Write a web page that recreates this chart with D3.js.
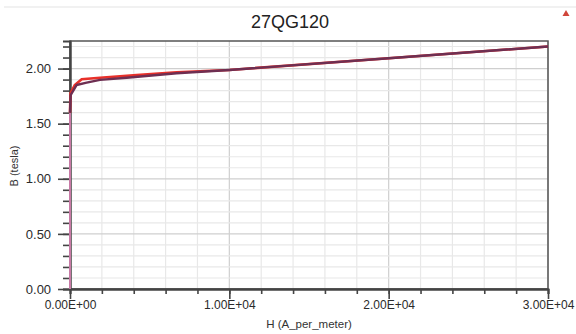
<!DOCTYPE html>
<html>
<head>
<meta charset="utf-8">
<script src="https://cdn.jsdelivr.net/npm/d3@7"></script>
<style>
  body { margin: 0; background: #fff; }
  svg { display: block; font-family: "Liberation Sans", Arial, sans-serif; }
</style>
</head>
<body>
<svg id="chart" width="576" height="334"></svg>
<script>
// B-H curve for 27QG120
const chartTitle = "27QG120";
const xTitle = "H (A_per_meter)";
const yTitle = "B (tesla)";

// the thin pinkish rise along H = 0
const riseH = [0, 0];
const riseB = [0, 1.60];
// red curve
const redH = [0, 30, 300, 734, 1883, 4184, 6695, 10000, 20000, 30000];
const redB = [1.60, 1.776, 1.85, 1.903, 1.917, 1.940, 1.966, 1.987, 2.094, 2.200];
// dark purple curve
const purpleH = [0, 40, 418, 1046, 1883, 3556, 6695, 10000, 20000, 30000];
const purpleB = [1.60, 1.76, 1.851, 1.872, 1.897, 1.917, 1.958, 1.987, 2.094, 2.200];

const xTicks = [0, 10000, 20000, 30000];
const xTickLabels = ["0.00E+00", "1.00E+04", "2.00E+04", "3.00E+04"];
const yTicks = [0, 0.5, 1.0, 1.5, 2.0];
const yTickLabels = ["0.00", "0.50", "1.00", "1.50", "2.00"];

const margin = {top: 41, right: 28, bottom: 45, left: 70};
const W = 576, H = 334;
const iw = W - margin.left - margin.right;
const ih = H - margin.top - margin.bottom;

const svg = d3.select("#chart");

// faint rule along the top and the little red marker
svg.append("line").attr("x1", 4).attr("x2", 576).attr("y1", 7).attr("y2", 7)
  .attr("stroke", "#e3e3e3").attr("stroke-width", 1);
svg.append("path").attr("d", "M566,10 L569.5,16 L562.5,16 Z").attr("fill", "#d0453a");

svg.append("text").attr("x", 290).attr("y", 28).attr("text-anchor", "middle")
  .attr("font-size", 18).attr("fill", "#222").text(chartTitle);

const g = svg.append("g").attr("transform", `translate(${margin.left},${margin.top})`);

const x = d3.scaleLinear().domain([0, 30000]).range([0, iw]);
const y = d3.scaleLinear().domain([0, 2.25]).range([ih, 0]);

const xMinor = d3.range(0, 30001, 2000);
const yMinor = d3.range(0, 2.26, 0.1).map(v => +v.toFixed(2));

// grid
g.append("g").selectAll("line").data(xMinor).join("line")
  .attr("x1", d => x(d)).attr("x2", d => x(d)).attr("y1", 0).attr("y2", ih)
  .attr("stroke", d => xTicks.includes(d) ? "#cfcfcf" : "#e8e8e8").attr("stroke-width", 1.2);
g.append("g").selectAll("line").data(yMinor).join("line")
  .attr("x1", 0).attr("x2", iw).attr("y1", d => y(d)).attr("y2", d => y(d))
  .attr("stroke", d => yTicks.some(t => Math.abs(t - d) < 1e-6) ? "#cfcfcf" : "#e8e8e8").attr("stroke-width", 1.2);

// box
g.append("rect").attr("x", 0).attr("y", 0).attr("width", iw).attr("height", ih)
  .attr("fill", "none").attr("stroke", "#555").attr("stroke-width", 1.5);

// axes
const xAxisMinor = d3.axisBottom(x).tickValues(xMinor).tickSize(5).tickFormat("");
const xAxis = d3.axisBottom(x).tickValues(xTicks).tickSize(10).tickSizeOuter(0)
  .tickFormat((d, i) => xTickLabels[i]);
const yAxisMinor = d3.axisLeft(y).tickValues(yMinor).tickSize(7).tickFormat("");
const yAxis = d3.axisLeft(y).tickValues(yTicks).tickSize(12).tickSizeOuter(0)
  .tickFormat((d, i) => yTickLabels[i]);

function styleAxis(sel) {
  sel.select(".domain").attr("stroke", "#444").attr("stroke-width", 2);
  sel.selectAll(".tick line").attr("stroke", "#444").attr("stroke-width", 1.6);
  sel.selectAll(".tick text").attr("fill", "#2a2a2a");
}

g.append("g").attr("transform", `translate(0,${ih})`).call(xAxisMinor).call(styleAxis);
g.append("g").attr("transform", `translate(0,${ih})`).call(xAxis).call(styleAxis)
  .selectAll(".tick text").attr("font-size", 12).attr("dy", "0.55em");
g.append("g").call(yAxisMinor).call(styleAxis);
g.append("g").call(yAxis).call(styleAxis)
  .selectAll(".tick text").attr("font-size", 13).attr("dx", "-0.3em");

// axis titles
svg.append("text").attr("x", margin.left + iw / 2).attr("y", 328).attr("text-anchor", "middle")
  .attr("font-size", 11.5).attr("fill", "#333").text(xTitle);
svg.append("text").attr("transform", `translate(18,166) rotate(-90)`).attr("text-anchor", "middle")
  .attr("font-size", 11).attr("fill", "#333").text(yTitle);

// curves
const line = d3.line().x(d => x(d[0])).y(d => y(d[1]));
const toPts = (hs, bs) => hs.map((h, i) => [h, bs[i]]);

g.append("path").datum(toPts(riseH, riseB)).attr("d", line)
  .attr("fill", "none").attr("stroke", "#c87aa6").attr("stroke-width", 2);
g.append("path").datum(toPts(redH, redB)).attr("d", line)
  .attr("fill", "none").attr("stroke", "#e8302a").attr("stroke-width", 2.6);
g.append("path").datum(toPts(purpleH, purpleB)).attr("d", line)
  .attr("fill", "none").attr("stroke", "#6e2f52").attr("stroke-width", 2.4)
  .attr("stroke-linejoin", "round");
</script>
</body>
</html>
